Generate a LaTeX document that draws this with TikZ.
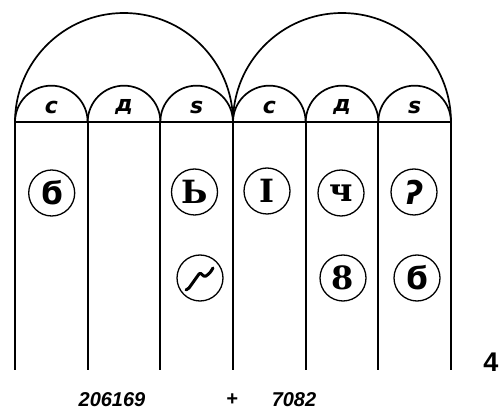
\documentclass[tikz,border=0pt]{standalone}
\usepackage{fontspec}
\setmainfont{Liberation Sans}
\newfontfamily\glyphfont{DejaVu Serif}
\newfontfamily\glyphsans{DejaVu Sans}
\newfontfamily\labfont{DejaVu Sans}
\begin{document}
\begin{tikzpicture}[x=1pt,y=-1pt,line join=round,
  rule/.style={line width=2pt},
  arcline/.style={line width=1.7pt},
  ring/.style={draw,circle,minimum size=46pt,inner sep=0pt,line width=1.3pt,font=\fontsize{32}{32}\selectfont\bfseries},
  cell/.style={font=\fontsize{22}{22}\selectfont\labfont\bfseries\slshape},
  num/.style={font=\fontsize{20}{20}\selectfont\bfseries\itshape}]
\useasboundingbox (0,0) rectangle (503,411);
% vertical lines
\foreach \i/\x in {0/15,1/87.7,2/160.3,3/233,4/305.7,5/378.3,6/451}{
  \coordinate (t\i) at (\x,122);
  \coordinate (b\i) at (\x,370);
  \draw[rule] (t\i) -- (b\i);
}
\draw[rule] (t0) -- (t6);
% small arches
\foreach \i in {0,...,5}{
  \draw[arcline] (t\i) arc[start angle=180,end angle=360,radius=36.33];
}
% large arches
\draw[arcline] (t0) arc[start angle=180,end angle=360,radius=109];
\draw[arcline] (t3) arc[start angle=180,end angle=360,radius=109];
% cell labels
\node[cell] (l1) at (51.3,107) {c};
\node[cell] (l2) at (124,107) {д};
\node[cell] (l3) at (196.6,107) {s};
\node[cell] (l4) at (269.3,107) {c};
\node[cell] (l5) at (342,107) {д};
\node[cell] (l6) at (414.6,107) {s};
% ringed signs
\node[ring] (r1) at (51.7,193) {\glyphsans ϭ};
\node[ring] (r2) at (194.5,192) {\glyphfont Ь};
\node[ring] (r3) at (267,191) {\glyphfont I};
\node[ring] (r4) at (341,193) {\glyphfont ч};
\node[ring] (r5) at (414,192) {\glyphsans\itshape ʔ};
\node[ring] (r6) at (200,278) {};
\node[ring] (r7) at (343,278) {\glyphfont 8};
\node[ring] (r8) at (417,278) {\glyphsans ϭ};
\begin{scope}[shift={(r6.center)}]
  \draw[line width=3pt,line cap=round] (-14,12) -- (-11,10) -- (-1,-4)
    .. controls (1,-7) and (3,0) .. (6,-2) .. controls (10,-5) .. (13,-10);
\end{scope}
% bottom numbers
\node[num] (n1) at (112,400) {206169};
\node[num] (n2) at (232,400) {+};
\node[num] (n3) at (294,400) {7082};
\node[font=\fontsize{27}{27}\selectfont\bfseries] (n4) at (491,362) {4};
\end{tikzpicture}
\end{document}
